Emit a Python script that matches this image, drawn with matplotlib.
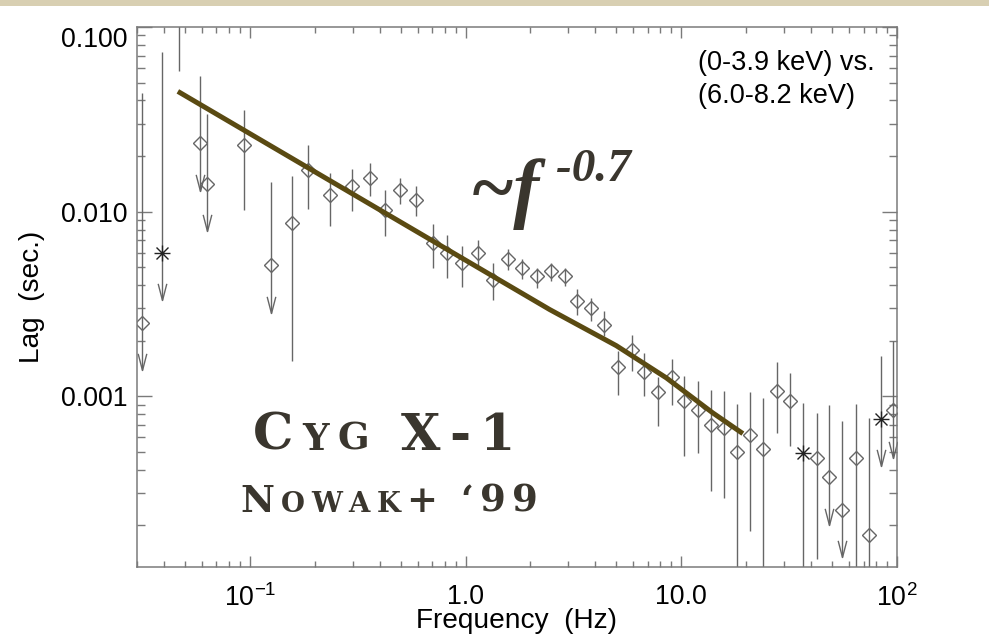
import matplotlib as mpl
from matplotlib import pyplot as plt
from matplotlib.path import Path
from matplotlib.patches import Rectangle
from matplotlib.ticker import FixedLocator, NullFormatter

mpl.rcParams['font.family'] = ['Liberation Sans', 'DejaVu Sans']

W, H = 989, 644

# values: frequency (Hz), lag (s), top / bottom of each error bar
freq = [0.0315, 0.0391, 0.047, 0.0587, 0.063, 0.0942, 0.125, 0.157, 0.186, 0.235,
        0.298, 0.360, 0.422, 0.499, 0.592, 0.703, 0.824, 0.968, 1.144, 1.341,
        1.58, 1.827, 2.145, 2.482, 2.89, 3.30, 3.80, 4.40, 5.07, 5.89,
        6.74, 7.83, 9.03, 10.34, 11.9, 13.69, 15.78, 18.2, 20.8, 24.0,
        27.7, 31.9, 36.8, 42.5, 48.6, 55.7, 64.3, 74.1, 84.6, 95.7]
lag = [0.00248, 0.00599, 0.13, 0.0234, 0.0142, 0.0229, 0.00513, 0.00864, 0.01675, 0.01228,
       0.01374, 0.01528, 0.01015, 0.01309, 0.01154, 0.00678, 0.00594, 0.00524, 0.00594, 0.00424,
       0.00556, 0.00497, 0.00446, 0.00476, 0.00451, 0.0033, 0.00299, 0.00243, 0.001437, 0.001775,
       0.00135, 0.00105, 0.00127, 0.00094, 0.000847, 0.0007, 0.000677, 0.000502, 0.000618, 0.000516,
       0.00107, 0.000944, 0.000491, 0.000466, 0.000364, 0.000242, 0.000461, 0.000177, 0.000754, 0.000844]
lag_hi = [0.0437, 0.0736, 0.3, 0.0542, 0.0336, 0.0355, 0.01445, 0.01556, 0.0231, 0.01626,
          0.01707, 0.01841, 0.01318, 0.01527, 0.01374, 0.00852, 0.00752, 0.0065, 0.0070, 0.00528,
          0.00629, 0.00556, 0.00497, 0.00528, 0.00497, 0.00379, 0.00341, 0.00289, 0.00175, 0.00216,
          0.00172, 0.00128, 0.001595, 0.00129, 0.001206, 0.00108, 0.00107, 0.000905, 0.00105, 0.000984,
          0.00153, 0.00134, 0.000924, 0.000809, 0.000898, 0.000738, 0.000905, 0.000766, 0.001655, 0.0020]
lag_lo = [0.00138, 0.00334, 0.0577, 0.0130, 0.00784, 0.0102, 0.00283, 0.00155, 0.01037, 0.00834,
          0.01007, 0.01213, 0.00736, 0.01094, 0.00945, 0.00497, 0.00438, 0.00392, 0.00497, 0.00331,
          0.00486, 0.00433, 0.00387, 0.0042, 0.00398, 0.00277, 0.00255, 0.00211, 0.00102, 0.001366,
          0.001, 0.000688, 0.000902, 0.000475, 0.000493, 0.000307, 0.000282, 1e-5, 0.000186, 1e-5,
          0.00063, 0.00054, 1e-5, 0.000131, 0.000201, 0.000134, 1e-5, 1e-5, 0.00042, 0.000464]
# d = diamond, a = asterisk (negative lag)
kind = ('dadddddddd'
        'dddddddddd'
        'dddddddddd'
        'dddddddddd'
        'ddaddddda d').replace(' ', '')
# lower bar goes through zero -> drawn as an arrow
arrow = [1, 1, 0, 1, 1, 0, 1, 0, 0, 0,
         0, 0, 0, 0, 0, 0, 0, 0, 0, 0,
         0, 0, 0, 0, 0, 0, 0, 0, 0, 0,
         0, 0, 0, 0, 0, 0, 0, 0, 0, 0,
         0, 0, 0, 0, 1, 1, 0, 0, 1, 1]

# the ~f^-0.7 guide line
line_f = [0.0464, 2.455, 5.0, 8.53, 14.0, 19.3]
line_lag = [0.0448, 0.00295, 0.00188, 0.001258, 0.000813, 0.000628]

xticks = [0.1, 1, 10, 100]
xlabels = [r'$\mathregular{10^{-1}}$', '1.0', '10.0', r'$\mathregular{10^{2}}$']
yticks = [0.001, 0.01, 0.1]
ylabels = ['0.001', '0.010', '0.100']


def fx(px):
    return px / W


def fy(py):
    return 1 - py / H


fig = plt.figure(figsize=(W / 100, H / 100), dpi=100)
fig.add_artist(Rectangle((0, fy(6)), 1, 6 / H, transform=fig.transFigure,
                         color='#d8cfb2', lw=0))

ax = fig.add_axes([fx(137), fy(567), 760 / W, 540 / H])
ax.set_xscale('log')
ax.set_yscale('log')
ax.set_xlim(0.03, 100)
ax.set_ylim(1.19e-4, 0.1)

gray = '#666666'
ax.vlines(freq, lag_lo, lag_hi, color=gray, lw=1.0)

dx = [f for f, k in zip(freq, kind) if k == 'd']
dy = [l for l, k in zip(lag, kind) if k == 'd']
ax.plot(dx, dy, ls='none', marker='D', ms=7.6, mfc='none', mec=gray, mew=1.0)

star = Path([(-1, 0), (1, 0), (-0.75, -0.75), (0.75, 0.75), (-0.75, 0.75), (0.75, -0.75),
             (0, -1), (0, 1)],
            [Path.MOVETO, Path.LINETO] * 4)
sx = [f for f, k in zip(freq, kind) if k == 'a']
sy = [l for l, k in zip(lag, kind) if k == 'a']
ax.plot(sx, sy, ls='none', marker=star, ms=11.5, mec='#222222', mew=1.0)

vee = Path([(-0.26, 1), (0, 0), (0.26, 1)], [Path.MOVETO, Path.LINETO, Path.LINETO])
arr_x = [f for f, a in zip(freq, arrow) if a]
arr_y = [l for l, a in zip(lag_lo, arrow) if a]
ax.plot(arr_x, arr_y, ls='none', marker=vee, ms=24, mfc='none', mec=gray, mew=1.0)

ax.plot(line_f, line_lag, color='#5a4a12', lw=3.6, solid_capstyle='butt')

# axes styling (IDL look)
for s in ax.spines.values():
    s.set_color('#7a7a7a')
    s.set_linewidth(1.1)
ax.xaxis.set_major_locator(FixedLocator(xticks))
ax.set_xticklabels(xlabels)
ax.yaxis.set_major_locator(FixedLocator(yticks))
ax.set_yticklabels(ylabels)
ax.xaxis.set_minor_formatter(NullFormatter())
ax.yaxis.set_minor_formatter(NullFormatter())
ax.tick_params(which='both', direction='in', top=True, right=True, color='#7a7a7a',
               width=1.0, labelsize=19.3)
ax.tick_params(axis='x', which='major', length=7.6, pad=12.5)
ax.tick_params(axis='x', which='minor', length=4.3)
ax.tick_params(axis='y', which='major', length=10.8, pad=6.5)
ax.tick_params(axis='y', which='minor', length=5.8)
ax.yaxis.get_major_ticks()[-1].label1.set_verticalalignment('top')

ax.set_xlabel('Frequency  (Hz)', fontsize=20.2, labelpad=-3)
ax.set_ylabel('Lag  (sec.)', fontsize=20.2, labelpad=12)

fig.text(fx(698), fy(70), '(0-3.9 keV) vs.', fontsize=19.5, va='baseline')
fig.text(fx(698), fy(103), '(6.0-8.2 keV)', fontsize=19.5, va='baseline')

# power law annotation
ink = '#3a362e'
serif = ['Liberation Serif', 'DejaVu Serif']
fig.text(fx(470), fy(213), '~f', fontsize=56, family=serif, style='italic',
         weight='bold', color=ink, va='baseline')
fig.text(fx(556), fy(181), '-0.7', fontsize=34, family=serif, style='italic',
         weight='bold', color=ink, va='baseline')

# small caps labels
renderer = fig.canvas.get_renderer()


def small_caps(x, y, s, big, small, track, space):
    for ch in s:
        if ch == ' ':
            x += space
            continue
        size = small if ch.islower() else big
        t = fig.text(fx(x), fy(y), ch.upper(), fontsize=size, family=['DejaVu Serif'],
                     weight='bold', color=ink, va='baseline')
        x += t.get_window_extent(renderer).width + track


small_caps(253, 450, 'Cyg X-1', 36.5, 26.7, 9, 22)
small_caps(240, 512, 'Nowak+ \u201899', 26.7, 19.8, 6.5, 16)

fig.savefig('out.png', dpi=100)
